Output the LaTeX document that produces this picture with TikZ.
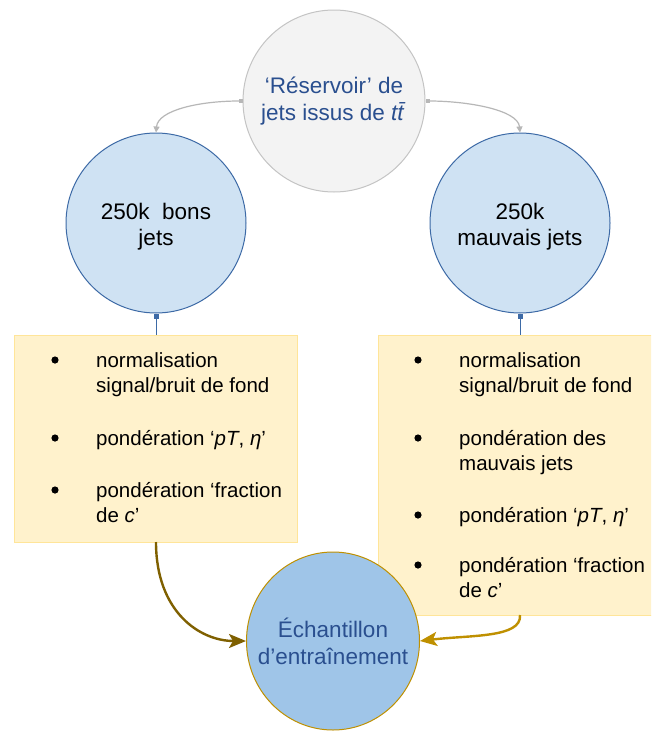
\documentclass[tikz,border=0pt]{standalone}
\usepackage{fontspec}
\setmainfont{Liberation Sans}
\usetikzlibrary{arrows.meta,shapes.geometric}
\definecolor{topfill}{HTML}{F3F3F3}
\definecolor{topdraw}{HTML}{C4C4C4}
\definecolor{bluefill}{HTML}{CFE2F3}
\definecolor{bluedraw}{HTML}{3D6AA6}
\definecolor{boxfill}{HTML}{FFF2CC}
\definecolor{boxdraw}{HTML}{FFE599}
\definecolor{ellfill}{HTML}{9FC5E8}
\definecolor{golddraw}{HTML}{BF9000}
\definecolor{darkgold}{HTML}{7F6000}
\definecolor{txtblue}{HTML}{2A4F8F}
\definecolor{arrgray}{HTML}{B7B7B7}
\tikzset{
  circbase/.style={circle, inner sep=0pt, align=center, font=\fontsize{22.5}{27}\selectfont},
  topcirc/.style={circbase, fill=topfill, draw=topdraw, line width=1pt, minimum size=182pt, text=txtblue},
  bluecirc/.style={circbase, fill=bluefill, draw=bluedraw, line width=1pt, minimum size=180pt, text=black},
  listbox/.style={rectangle, fill=boxfill, draw=boxdraw, line width=1.2pt, anchor=north west, inner sep=0pt},
  itemtxt/.style={anchor=base west, inner sep=0pt, font=\fontsize{20.5}{25}\selectfont},
  bulletdot/.style={fill=black},
  grayarrow/.style={draw=arrgray, line width=1.2pt, {Square[length=4pt,width=4pt]}-{Triangle[length=6pt,width=6pt]}},
  bluelink/.style={draw=bluedraw, line width=1pt, {Square[length=5pt,width=5pt]}-},
  goldarrow/.style={line width=2.4pt, -{Stealth[length=17pt,width=14pt,inset=4pt]}}
}
\begin{document}
\begin{tikzpicture}[x=1pt,y=-1pt]
\clip (0,0) rectangle (651,731);
\fill[white] (0,0) rectangle (651,731);

% boxes
\node[listbox, minimum width=283pt, minimum height=207pt] (lbox) at (14,335) {};
\node[listbox, minimum width=290pt, minimum height=280pt] (rbox) at (378,335) {};

% circles
\node[topcirc] (res) at (334,101) {‘Réservoir’ de\\jets issus de \textit{t\={t}}};
\node[bluecirc] (good) at (156,223) {};
\node[align=center, font=\fontsize{22.5}{26}\selectfont] (goodtxt) at (156,227) {250k\ \ bons\\jets};
\node[bluecirc] (bad) at (520,223) {};
\node[align=center, font=\fontsize{22.5}{26}\selectfont] (badtxt) at (520,227) {250k\\mauvais jets};

% bottom ellipse
\node[ellipse, fill=ellfill, draw=golddraw, line width=1pt, minimum width=173pt, minimum height=178pt,
      inner sep=0pt] (train) at (333,641) {};
\node[align=center, text=txtblue, font=\fontsize{22.5}{27}\selectfont] (traintxt) at (train.center)
      {Échantillon\\d’entraînement};

% left list
\foreach \y in {360,438,490} \fill[bulletdot] (55,\y) circle (3.6pt);
\node[itemtxt] (l1a) at (96,367) {normalisation};
\node[itemtxt] (l1b) at (96,392) {signal/bruit de fond};
\node[itemtxt] (l2) at (96,445) {pondération ‘\textit{pT}, \textit{η}’};
\node[itemtxt] (l3a) at (96,497) {pondération ‘fraction};
\node[itemtxt] (l3b) at (96,522) {de \textit{c}’};

% right list
\foreach \y in {360,438,515,565} \fill[bulletdot] (418,\y) circle (3.6pt);
\node[itemtxt] (r1a) at (459,367) {normalisation};
\node[itemtxt] (r1b) at (459,392) {signal/bruit de fond};
\node[itemtxt] (r2a) at (459,445) {pondération des};
\node[itemtxt] (r2b) at (459,470) {mauvais jets};
\node[itemtxt] (r3) at (459,522) {pondération ‘\textit{pT}, \textit{η}’};
\node[itemtxt] (r4a) at (459,572) {pondération ‘fraction};
\node[itemtxt] (r4b) at (459,597) {de \textit{c}’};

% connectors
\draw[grayarrow] (res.west) .. controls (200,101) and (158,110) .. (good.north);
\draw[grayarrow] (res.east) .. controls (468,101) and (518,110) .. (bad.north);
\draw[bluelink] (good.south) -- (good.south |- lbox.north);
\draw[bluelink] (bad.south) -- (bad.south |- rbox.north);

\coordinate (lout) at (156,542);
\coordinate (rout) at (520,615);
\draw[goldarrow, draw=darkgold] (lout) .. controls (156,612) and (200,641) .. (train.west);
\draw[goldarrow, draw=golddraw] (rout) .. controls (522,638) and (470,635) .. (train.east);
\end{tikzpicture}
\end{document}
